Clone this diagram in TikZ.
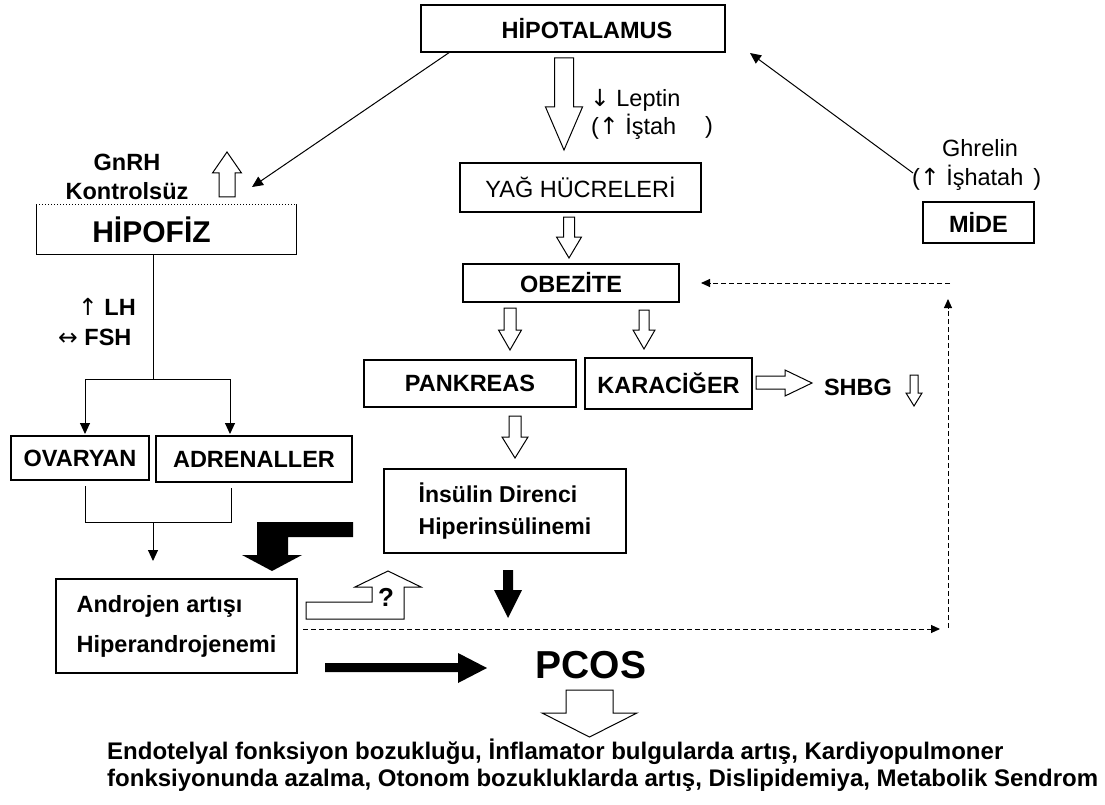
\documentclass[tikz,border=0pt]{standalone}
\usepackage{fontspec}
\setmainfont{Liberation Sans}
\newfontfamily\arrowfont{DejaVu Sans}
\newcommand\ua{{\arrowfont\fontseries{m}\selectfont ↑}}
\newcommand\da{{\arrowfont\fontseries{m}\selectfont ↓}}
\newcommand\lra{{\arrowfont\fontseries{m}\selectfont ↔}}
\usetikzlibrary{arrows.meta}
\newcommand\hollowdown[6]{%
  \draw[hollow] ({#1-#3},#2) -- ({#1+#3},#2) -- ({#1+#3},#5) -- ({#1+#4},#5) -- (#1,#6) -- ({#1-#4},#5) -- ({#1-#3},#5) -- cycle;}
\begin{document}
\begin{tikzpicture}[x=1pt,y=-1pt,
  box/.style={draw, line width=1.3pt, inner sep=0pt, font=\fontsize{23.5}{27}\selectfont\bfseries},
  bt/.style={inner sep=0pt, font=\fontsize{23.5}{29}\selectfont\bfseries},
  rt/.style={inner sep=0pt, font=\fontsize{23.5}{27}\selectfont},
  conn/.style={line width=1pt},
  tip/.style={-{Triangle[length=11pt,width=10pt]}},
  dtip/.style={-{Triangle[length=9pt,width=8pt]}},
  hollow/.style={draw, line width=1pt, fill=white, line join=miter},
  blk/.style={fill=black},
  dsh/.style={line width=1pt, dash pattern=on 5pt off 3pt},
]
\useasboundingbox[fill=white] (0,0) rectangle (1105,805);

% ---------- boxes ----------
\node[box, minimum width=304pt, minimum height=47pt] (hyp) at (573,28.5) {\hspace*{28pt}HİPOTALAMUS};
\node[box, draw=none, minimum width=259pt, minimum height=49pt, font=\fontsize{30}{33}\selectfont\bfseries] (hipofiz) at (166.5,229.5) {HİPOFİZ\hspace*{30pt}};
\draw[line width=1.3pt] (hipofiz.north west) -- (hipofiz.south west) -- (hipofiz.south east) -- (hipofiz.north east);
\draw[line width=1pt, dotted] (hipofiz.north west) -- (hipofiz.north east);
\node[box, minimum width=241pt, minimum height=49pt, font=\fontsize{23.5}{27}\selectfont] (yag) at (580.5,187.5) {YAĞ HÜCRELERİ};
\node[box, minimum width=216pt, minimum height=38pt] (obez) at (571,283) {OBEZİTE};
\node[box, minimum width=212pt, minimum height=47pt] (pank) at (470,383.5) {PANKREAS};
\node[box, minimum width=167pt, minimum height=51pt] (kara) at (668.5,383.5) {KARACİĞER};
\node[box, minimum width=242pt, minimum height=84pt, align=left, font=\fontsize{23}{32}\selectfont\bfseries] (ins) at (505,511) {İnsülin Direnci\\Hiperinsülinemi};
\node[box, minimum width=138pt, minimum height=44pt] (ovar) at (80,458) {OVARYAN};
\node[box, minimum width=196pt, minimum height=46pt] (adr) at (254,459) {ADRENALLER};
\node[box, minimum width=241pt, minimum height=94pt, align=left, font=\fontsize{23.5}{40}\selectfont\bfseries] (andr) at (176.5,626) {Androjen artışı\\Hiperandrojenemi};
\node[box, minimum width=111pt, minimum height=41pt] (mide) at (978.5,222.5) {MİDE};

% ---------- labels ----------
\node[bt, align=center] (gnrh) at (127,177) {GnRH\\Kontrolsüz};
\node[bt, anchor=west] (lh) at (78,307) {\ua{} LH};
\node[bt, anchor=west] (fsh) at (58,337) {\lra{} FSH};
\node[rt, anchor=west] (leptin) at (590,100) {\da{} Leptin};
\node[rt, anchor=west] (istah) at (591,127) {(\ua{} İştah};
\node[rt] (istahp) at (709,127) {)};
\node[rt] (ghrelin) at (980,148) {Ghrelin};
\node[rt, anchor=west] (ishatah) at (912,178) {(\ua{} İşhatah\hspace{10pt})};
\node[bt] (shbg) at (858,387) {SHBG};
\node[inner sep=0pt, font=\fontsize{39}{44}\selectfont\bfseries] (pcos) at (591,665) {PCOS};
\node[inner sep=0pt, anchor=west, align=left, font=\fontsize{24}{27}\selectfont\bfseries] (sonuc) at (107,765)
  {Endotelyal fonksiyon bozukluğu, İnflamator bulgularda artış, Kardiyopulmoner\\fonksiyonunda azalma, Otonom bozukluklarda artış, Dislipidemiya, Metabolik Sendrom};

% ---------- thin connectors ----------
\coordinate (hypL) at (450,52);
\coordinate (gnrhIn) at (252,187);
\draw[conn, tip] (hypL) -- (gnrhIn);
\coordinate (mideOut) at (913,173);
\coordinate (hypR) at (750,53);
\draw[conn, tip] (mideOut) -- (hypR);

\coordinate (split) at (153,379);
\draw[conn] (hipofiz.south -| split) -- (split);
\draw[conn, tip] (split) -- (85,379) -- (85,434);
\draw[conn, tip] (split) -- (230,379) -- (230,434);
\coordinate (join) at (153,522);
\coordinate (andrIn) at (153,561);
\draw[conn] (85,486) -- (85,522) -- (231,522) -- (231,488);
\draw[conn, tip] (join) -- (andrIn);

% ---------- dashed feedback ----------
\coordinate (dA) at (303,629);
\coordinate (dB) at (940,629);
\coordinate (dC) at (948,628);
\coordinate (dD) at (948,299);
\coordinate (dE) at (950,283);
\coordinate (dF) at (701,283);
\draw[dsh, dtip] (dA) -- (dB);
\draw[dsh, dtip] (dC) -- (dD);
\draw[dsh, dtip] (dE) -- (dF);

% ---------- hollow arrows ----------
\hollowdown{564}{58}{9.5}{18.5}{107}{150}
\hollowdown{227}{197}{8}{14.5}{173}{152}
\hollowdown{569}{217}{5.5}{12.5}{237}{258}
\hollowdown{510}{308}{6}{11.5}{330}{350}
\hollowdown{644}{310}{5}{11}{330}{349}
\hollowdown{515}{416}{6}{13}{437}{458}
\hollowdown{914}{375}{4}{8}{393}{406}
\hollowdown{589.5}{690}{23.5}{47.5}{713}{737}
\draw[hollow] (756,376) -- (785,376) -- (785,370) -- (812,383) -- (785,396) -- (785,389) -- (756,389) -- cycle;
\draw[hollow] (306,602) -- (372,602) -- (372,587) -- (355,587) -- (388,571) -- (421,587) -- (404,587) -- (404,619) -- (306,619) -- cycle;
\node[inner sep=0pt, font=\fontsize{26}{30}\selectfont\bfseries] (soru) at (386,597) {?};

% ---------- black arrows ----------
\fill[blk] (353,522) -- (257,522) -- (257,555) -- (242,555) -- (272,571) -- (302,555) -- (288,555) -- (288,537) -- (353,537) -- cycle;
\fill[blk] (503,570) -- (513,570) -- (513,590) -- (522,590) -- (508,618) -- (494,590) -- (503,590) -- cycle;
\fill[blk] (325,663) -- (458,663) -- (458,653) -- (487,668) -- (458,683) -- (458,672) -- (325,672) -- cycle;
\end{tikzpicture}
\end{document}
